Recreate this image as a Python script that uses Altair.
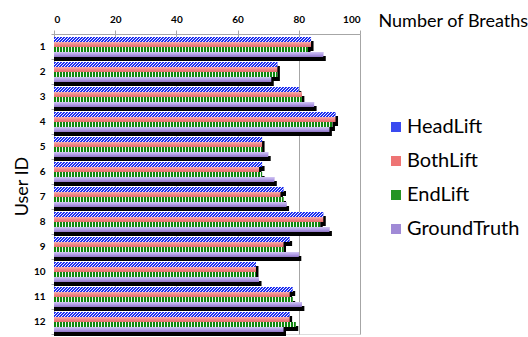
import altair as alt
import pandas as pd

users = list(range(1, 13))
series = ["HeadLift", "BothLift", "EndLift", "GroundTruth"]
headlift    = [84, 73, 80, 92, 68, 68, 75, 88, 77, 66, 78, 77]
bothlift    = [84, 73, 81, 92, 68, 67, 74, 88, 75, 66, 77, 77]
endlift     = [83, 73, 81, 91, 68, 68, 75, 87, 75, 66, 78, 79]
groundtruth = [88, 71, 85, 90, 70, 72, 76, 90, 80, 67, 81, 75]
x_ticks = [0, 20, 40, 60, 80, 100]
legend_colors = ["#3a4af0", "#ee7474", "#249424", "#a08ad6"]

values = {"HeadLift": headlift, "BothLift": bothlift,
          "EndLift": endlift, "GroundTruth": groundtruth}
rows = []
for si, s in enumerate(series):
    for u, v in zip(users, values[s]):
        rows.append({"user": u, "series": s, "sidx": si, "value": v})
df = pd.DataFrame(rows)

BAR_START = 0.12
BAR_STEP = 0.2


def vgrad(cols):
    n = len(cols) - 1
    return {"gradient": "linear", "x1": 0, "y1": 0, "x2": 0, "y2": 1,
            "stops": [{"offset": round(i / n, 4), "color": c} for i, c in enumerate(cols)]}


base_fills = {
    "HeadLift": "#eef0ff",
    "BothLift": vgrad(["#f7b0b0", "#f08686", "#e66c6c"]),
    "EndLift": "#eef7ea",
    "GroundTruth": vgrad(["#d2c6f4", "#b29ee6", "#8e74c6"]),
}

GRAY = "#a6a6a6"

x_axis = alt.Axis(
    orient="top", values=x_ticks, title="Number of Breaths",
    grid=True, gridColor=GRAY, domainColor=GRAY, tickColor=GRAY,
    tickSize=4, labelPadding=6, labelFont="Lato", labelFontSize=10,
    labelFontWeight="bold", labelColor="black",
    titleX=324, titleY=-13, titleAlign="left", titleBaseline="middle",
    titleAngle=0, titleFont="Lato", titleFontSize=18, titleFontWeight="normal",
    titleColor="black",
)
y_axis = alt.Axis(
    values=[k / 2 for k in range(25)],
    labelExpr="datum.value % 1 == 0.5 ? '' + (floor(datum.value) + 1) : ''",
    tickOpacity={"condition": {"test": "datum.value % 1 == 0", "value": 1}, "value": 0},
    grid=False, domainColor=GRAY, tickColor=GRAY, tickSize=3, labelPadding=6,
    labelFont="Lato", labelFontSize=10, labelFontWeight="bold", labelColor="black",
    labelOverlap=False, labelBaseline="middle",
    title="User ID", titleFont="Lato", titleFontSize=18, titleFontWeight="normal",
    titleColor="black", titleX=-32, titleY=152, titleAngle=270,
    titleAlign="center", titleBaseline="middle",
)

x_scale = alt.Scale(domain=[0, 100], nice=False, zero=True)
y_scale = alt.Scale(domain=[0, 12], nice=False, zero=True, reverse=True)

enc = dict(
    x=alt.X("zero:Q", scale=x_scale, axis=x_axis),
    x2="value:Q",
    y=alt.Y("top:Q", scale=y_scale, axis=y_axis),
)

base = alt.Chart(df).transform_calculate(
    zero="0",
    top=f"datum.user - 1 + {BAR_START} + {BAR_STEP} * datum.sidx",
    bot=f"datum.user - 1 + {BAR_START} + {BAR_STEP} * (datum.sidx + 1)",
)

legend_layer = base.mark_bar(strokeWidth=0).encode(
    **enc, y2="bot:Q",
    color=alt.Color("series:N", scale=alt.Scale(domain=series, range=legend_colors),
                    legend=alt.Legend(title=None, orient="none", legendX=332, legendY=83,
                                      symbolType="square", symbolSize=100,
                                      symbolStrokeWidth=0, labelFont="Lato",
                                      labelFontSize=20, labelColor="black",
                                      labelOffset=1, rowPadding=14, padding=0)),
)

layers = [legend_layer]
for s in series:
    sub = base.transform_filter(alt.datum.series == s)
    # drop shadow
    layers.append(sub.mark_bar(color="black", x2Offset=2.5, yOffset=4, y2Offset=4).encode(
        **enc, y2="bot:Q"))
    # body
    layers.append(sub.mark_bar(fill=base_fills[s], strokeWidth=0).encode(**enc, y2="bot:Q"))
    if s == "HeadLift":
        # diagonal hatch: five one-pixel rows with shifted dashes
        for k in range(5):
            layers.append(sub.mark_rule(color="#1f2ff0", strokeWidth=1, strokeDash=[2, 1],
                                        strokeDashOffset=k % 3, yOffset=k + 0.5).encode(**enc))
    if s == "EndLift":
        layers.append(sub.mark_rule(color="#0f870f", strokeWidth=5, strokeDash=[2, 1],
                                    yOffset=2.5).encode(**enc))

chart = alt.layer(*layers).properties(
    width=306, height=300,
    padding={"left": 54, "top": 34, "right": 168, "bottom": 3},
    autosize=alt.AutoSizeParams(type="none"),
).configure_view(stroke="transparent").configure(font="Lato")

chart.save("out.html", embed_options={"renderer": "svg", "actions": False})
